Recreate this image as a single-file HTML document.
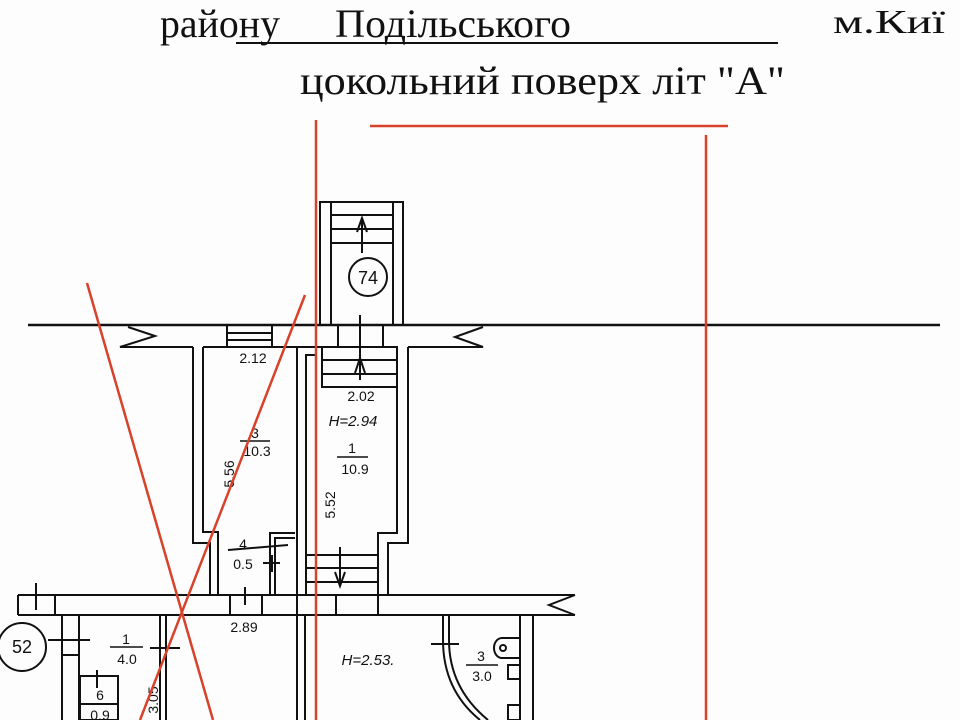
<!DOCTYPE html>
<html><head><meta charset="utf-8"><style>
html,body{margin:0;padding:0;background:#fff;}
svg{display:block;}
</style></head><body>
<svg width="960" height="720" viewBox="0 0 960 720" xmlns="http://www.w3.org/2000/svg">
<rect width="960" height="720" fill="#fdfdfd"/>
<!-- header -->
<g font-family="Liberation Serif, serif" fill="#111">
<text x="160" y="37" font-size="40" textLength="120" lengthAdjust="spacingAndGlyphs">району</text>
<text x="335" y="37" font-size="40" textLength="236" lengthAdjust="spacingAndGlyphs">Подільського</text>
<text x="833" y="33" font-size="34" textLength="112" lengthAdjust="spacingAndGlyphs">м.Киї</text>
<text x="300" y="94" font-size="40" textLength="485" lengthAdjust="spacingAndGlyphs">цокольний поверх   літ  "А"</text>
</g>
<line x1="236" y1="43" x2="778" y2="43" stroke="#111" stroke-width="2"/>

<g stroke="#111" stroke-width="2" fill="none">
<!-- upper band -->
<line x1="28" y1="325" x2="940" y2="325" stroke-width="2.5"/>
<polyline points="128,327 155,336 120,347 193,347"/>
<polyline points="483,327 455,337 483,347 408,347"/>
<line x1="297" y1="347" x2="316" y2="347"/>
<line x1="203" y1="347" x2="297" y2="347"/>
<line x1="227" y1="325" x2="227" y2="347"/><line x1="272" y1="325" x2="272" y2="347"/>
<line x1="227" y1="333" x2="272" y2="333"/><line x1="227" y1="340" x2="272" y2="340"/>
<line x1="338" y1="325" x2="338" y2="347"/><line x1="383" y1="325" x2="383" y2="347"/>
<line x1="316" y1="347" x2="383" y2="347"/>
<!-- stair 74 -->
<rect x="320" y="202" width="83" height="123"/>
<line x1="331" y1="202" x2="331" y2="325"/><line x1="393" y1="202" x2="393" y2="325"/>
<line x1="331" y1="215" x2="393" y2="215"/><line x1="331" y1="229" x2="393" y2="229"/><line x1="331" y1="243" x2="393" y2="243"/>
<circle cx="368" cy="277" r="19"/>
<line x1="362" y1="253" x2="362" y2="220"/><polyline points="357,232 362,218 367,232"/>
<line x1="360" y1="315" x2="360" y2="380"/>
<!-- room 3 -->
<polyline points="193,347 193,543 210,543 210,595"/>
<polyline points="203,347 203,532 218,532 218,595"/>
<line x1="297" y1="347" x2="297" y2="595"/>
<polyline points="270,595 270,533 295,533"/>
<polyline points="275,595 275,538 295,538"/>
<line x1="263" y1="563" x2="280" y2="563"/><line x1="272" y1="555" x2="272" y2="572"/>
<line x1="228" y1="550" x2="288" y2="545"/>
<!-- room 1 -->
<polyline points="306,595 306,355 316,355"/>
<polyline points="397,347 397,533 378,533 378,595"/>
<polyline points="408,347 408,543 388,543 388,595"/>
<rect x="322" y="347" width="75" height="40"/>
<line x1="322" y1="360" x2="397" y2="360"/><line x1="322" y1="374" x2="397" y2="374"/>
<polyline points="355,373 360,358 365,373"/>
<line x1="306" y1="555" x2="378" y2="555"/><line x1="306" y1="568" x2="378" y2="568"/><line x1="306" y1="582" x2="378" y2="582"/>
<line x1="340" y1="547" x2="340" y2="585"/><polyline points="335,572 340,586 345,572"/>
<!-- lower band -->
<line x1="18" y1="595" x2="575" y2="595"/>
<line x1="18" y1="595" x2="18" y2="615"/>
<line x1="18" y1="615" x2="575" y2="615"/>
<polyline points="575,595 549,605 575,615"/>
<line x1="55" y1="595" x2="55" y2="615"/>
<line x1="36" y1="583" x2="36" y2="610"/>
<line x1="230" y1="595" x2="230" y2="615"/><line x1="262" y1="595" x2="262" y2="615"/>
<line x1="245" y1="587" x2="245" y2="605"/>
<line x1="297" y1="595" x2="297" y2="720"/><line x1="305" y1="615" x2="305" y2="720"/>
<line x1="336" y1="595" x2="336" y2="615"/><line x1="378" y1="595" x2="378" y2="615"/>
<!-- below -->
<line x1="62" y1="615" x2="62" y2="720"/><line x1="79" y1="615" x2="79" y2="720"/>
<line x1="62" y1="640" x2="79" y2="640"/><line x1="62" y1="655" x2="79" y2="655"/>
<line x1="160" y1="615" x2="160" y2="720"/><line x1="166" y1="615" x2="166" y2="720"/>
<line x1="150" y1="648" x2="180" y2="648"/>
<circle cx="22" cy="647" r="24"/>
<line x1="48" y1="640" x2="90" y2="640"/>
<rect x="80" y="676" width="38" height="44"/><line x1="80" y1="704" x2="118" y2="704"/>
<line x1="97" y1="670" x2="97" y2="688"/>
<path d="M443,615 L443,640 Q443,690 480,720"/>
<path d="M449,615 L449,640 Q449,688 488,720"/>
<line x1="431" y1="644" x2="459" y2="644"/>
<line x1="520" y1="615" x2="520" y2="720"/><line x1="533" y1="615" x2="533" y2="720"/>
<path d="M520,638 L502,638 A8,10 0 0 0 502,658 L520,658"/><circle cx="503" cy="648" r="3"/>
<rect x="508" y="665" width="12" height="14"/>
<rect x="508" y="705" width="12" height="15"/>
</g>

<!-- labels -->
<g font-family="Liberation Sans, sans-serif" font-size="14" fill="#111" text-anchor="middle">
<text x="253" y="363">2.12</text>
<text x="255" y="438">3</text><line x1="240" y1="441" x2="270" y2="441" stroke="#111" stroke-width="1.5"/>
<text x="257" y="456">10.3</text>
<text x="234" y="474" transform="rotate(-90 234 474)">5.56</text>
<text x="243" y="549">4</text><text x="243" y="569">0.5</text>
<text x="361" y="401">2.02</text>
<text x="353" y="426" font-style="italic" font-size="15">H=2.94</text>
<text x="352" y="453">1</text><line x1="337" y1="457" x2="368" y2="457" stroke="#111" stroke-width="1.5"/>
<text x="355" y="474">10.9</text>
<text x="335" y="505" transform="rotate(-90 335 505)">5.52</text>
<text x="244" y="632">2.89</text>
<text x="126" y="644">1</text><line x1="110" y1="647" x2="143" y2="647" stroke="#111" stroke-width="1.5"/>
<text x="127" y="664">4.0</text>
<text x="100" y="700">6</text><text x="100" y="720">0.9</text>
<text x="158" y="700" transform="rotate(-90 158 700)">3.05</text>
<text x="368" y="665" font-style="italic" font-size="15">H=2.53.</text>
<text x="481" y="661">3</text><line x1="466" y1="665" x2="498" y2="665" stroke="#111" stroke-width="1.5"/>
<text x="482" y="681">3.0</text>
<text x="22" y="653" font-size="18">52</text>
<text x="368" y="284" font-size="18">74</text>
</g>

<!-- red lines -->
<g stroke="#d8412a" stroke-width="2.5" fill="none">
<line x1="316" y1="120" x2="316" y2="720"/>
<line x1="370" y1="126" x2="728" y2="126"/>
<line x1="706" y1="135" x2="706" y2="720"/>
<line x1="87" y1="283" x2="213" y2="720"/>
<line x1="305" y1="295" x2="140" y2="720"/>
</g>
</svg>
</body></html>
